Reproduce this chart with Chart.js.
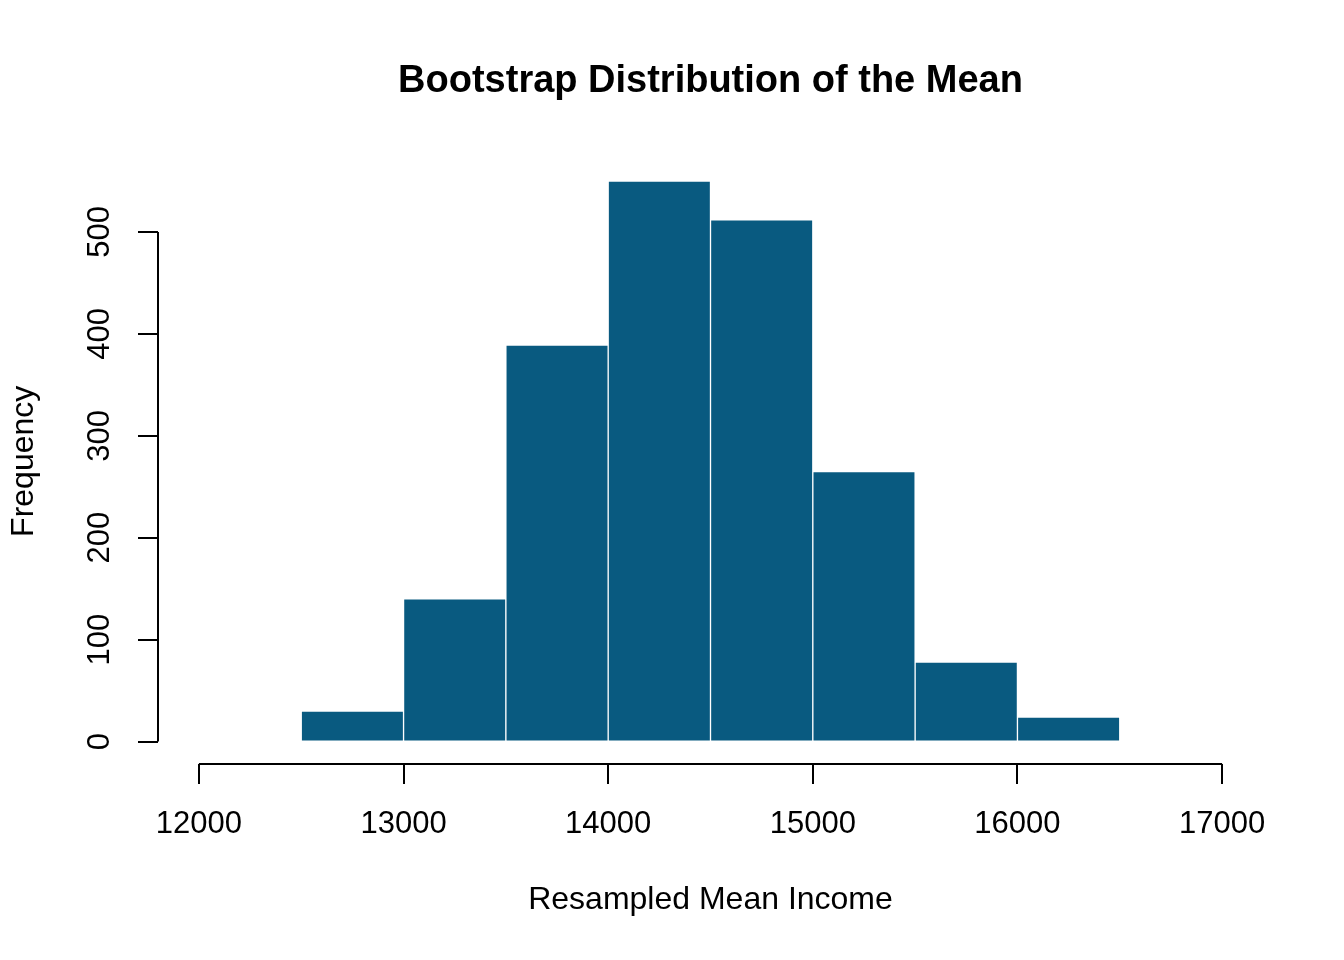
<!DOCTYPE html>
<html>
<head>
<meta charset="utf-8">
<script src="https://cdn.jsdelivr.net/npm/chart.js@4.4.1/dist/chart.umd.min.js"></script>
<style>
  body { margin: 0; background: #fff; }
  canvas { display: block; }
</style>
</head>
<body>
<canvas id="myChart" width="1344" height="960"></canvas>
<script>
// histogram bins and counts
const binEdges = [12500, 13000, 13500, 14000, 14500, 15000, 15500, 16000, 16500];
const counts = [30, 140, 389, 550, 512, 265, 78, 24];
const xTicks = [12000, 13000, 14000, 15000, 16000, 17000];
const yTicks = [0, 100, 200, 300, 400, 500];

const FONT = "'Liberation Sans', Arial, Helvetica, sans-serif";

// R style axes: line only from first to last tick
const rAxes = {
    id: 'rAxes',
    afterDraw(chart) {
        const { ctx, chartArea, scales } = chart;
        ctx.save();
        ctx.strokeStyle = '#000';
        ctx.lineWidth = 2;
        ctx.beginPath();
        ctx.moveTo(scales.x.getPixelForValue(xTicks[0]), chartArea.bottom);
        ctx.lineTo(scales.x.getPixelForValue(xTicks[xTicks.length - 1]), chartArea.bottom);
        ctx.moveTo(chartArea.left, scales.y.getPixelForValue(yTicks[0]));
        ctx.lineTo(chartArea.left, scales.y.getPixelForValue(yTicks[yTicks.length - 1]));
        ctx.stroke();
        ctx.restore();
    }
};

const ctx = document.getElementById('myChart').getContext('2d');
const myChart = new Chart(ctx, {
    type: 'bar',
    data: {
        datasets: [{
            data: counts.map((c, i) => ({ x: (binEdges[i] + binEdges[i + 1]) / 2, y: c })),
            backgroundColor: '#095a80',
            borderColor: '#ffffff',
            borderWidth: 1,
            barPercentage: 1,
            categoryPercentage: 1
        }]
    },
    options: {
        responsive: false,
        animation: false,
        devicePixelRatio: 1,
        layout: { padding: { left: 0, right: 81, top: 0, bottom: 0 } },
        plugins: {
            legend: { display: false },
            tooltip: { enabled: false },
            title: {
                display: true,
                fullSize: false,
                text: 'Bootstrap Distribution of the Mean',
                color: '#000',
                font: { family: FONT, size: 38, weight: 'bold' },
                padding: { top: 59, bottom: 54 }
            }
        },
        scales: {
            x: {
                type: 'linear',
                min: 11800,
                max: 17200,
                offset: false,
                afterBuildTicks: s => { s.ticks = xTicks.map(v => ({ value: v })); },
                afterFit: s => { s.height = 196; },
                border: { display: false },
                grid: {
                    offset: false,
                    drawOnChartArea: false,
                    drawTicks: true,
                    tickLength: 20,
                    color: '#000',
                    lineWidth: 2
                },
                ticks: {
                    color: '#000',
                    font: { family: FONT, size: 31 },
                    padding: 22,
                    maxRotation: 0,
                    autoSkip: false,
                    callback: v => String(v)
                },
                title: {
                    display: true,
                    text: 'Resampled Mean Income',
                    color: '#000',
                    font: { family: FONT, size: 32 },
                    padding: { top: 0, bottom: 41 }
                }
            },
            y: {
                min: -22,
                max: 572,
                afterBuildTicks: s => { s.ticks = yTicks.map(v => ({ value: v })); },
                afterFit: s => { s.width = 158; },
                border: { display: false },
                grid: {
                    drawOnChartArea: false,
                    drawTicks: true,
                    tickLength: 20,
                    color: '#000',
                    lineWidth: 2
                },
                ticks: {
                    color: '#000',
                    font: { family: FONT, size: 31 },
                    padding: 12,
                    minRotation: 90,
                    maxRotation: 90,
                    crossAlign: 'center',
                    autoSkip: false
                },
                title: {
                    display: true,
                    text: 'Frequency',
                    color: '#000',
                    font: { family: FONT, size: 32 },
                    padding: { top: 5, bottom: 0 }
                }
            }
        }
    },
    plugins: [rAxes]
});
</script>
</body>
</html>
